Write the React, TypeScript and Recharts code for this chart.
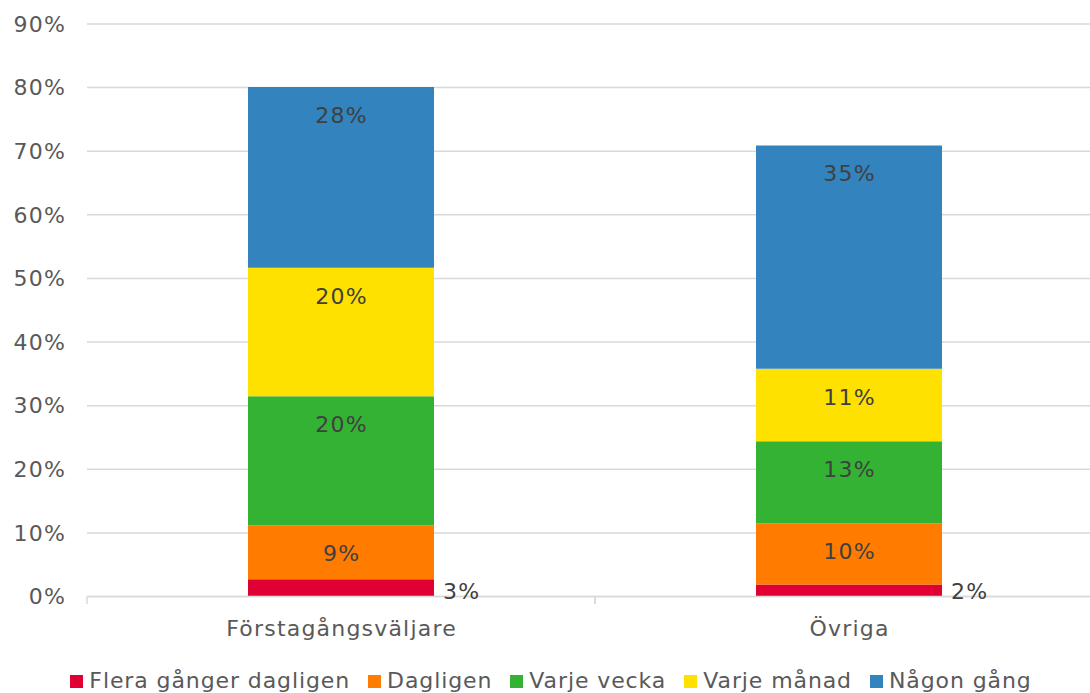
import React from 'react';
import { BarChart, Bar, XAxis, YAxis, CartesianGrid, Legend, LabelList } from 'recharts';

const categories = ['Förstagångsväljare', 'Övriga'];
const fleraGangerDagligen = [2.7, 1.9];
const dagligen = [8.5, 9.6];
const varjeVecka = [20.3, 12.9];
const varjeManad = [20.2, 11.4];
const nagonGang = [28.4, 35.1];
const yTicks = [0, 10, 20, 30, 40, 50, 60, 70, 80, 90];

const seriesNames = ['Flera gånger dagligen', 'Dagligen', 'Varje vecka', 'Varje månad', 'Någon gång'];
const seriesKeys = ['flera', 'dagligen', 'vecka', 'manad', 'nagon'];
const seriesColors = ['#E10034', '#FF7C00', '#34B233', '#FFE100', '#3283BE'];

const data = categories.map((c, i) => ({
  name: c,
  flera: fleraGangerDagligen[i],
  dagligen: dagligen[i],
  vecka: varjeVecka[i],
  manad: varjeManad[i],
  nagon: nagonGang[i],
}));

const FONT = '"DejaVu Sans", sans-serif';
const FS = 22;
const LS = 1.2;
const TICK_SIZE = 6;
const TICK_MARGIN = 18;

const InsideLabel = (props: any) => {
  const { x, y, width, value } = props;
  return (
    <text x={x + width / 2 + LS / 2} y={y + 36} textAnchor="middle" fill="#404040" fontSize={FS} fontFamily={FONT}>
      {Math.round(value)}%
    </text>
  );
};

const OutsideLabel = (props: any) => {
  const { x, y, width, height, value } = props;
  return (
    <text x={x + width + 9} y={y + height + 2} textAnchor="start" fill="#404040" fontSize={FS} fontFamily={FONT}>
      {Math.round(value)}%
    </text>
  );
};

const XTick = (props: any) => {
  const { x, y, payload } = props;
  const half = Number(payload && payload.offset) || 0;
  const axisY = y - TICK_SIZE - TICK_MARGIN;
  return (
    <g>
      {half > 0 && (
        <>
          <line x1={x - half} x2={x - half} y1={axisY} y2={axisY + 7.5} stroke="#d9d9d9" strokeWidth={1.5} />
          <line x1={x + half} x2={x + half} y1={axisY} y2={axisY + 7.5} stroke="#d9d9d9" strokeWidth={1.5} />
        </>
      )}
      <text x={x + LS / 2} y={y} dy="0.71em" textAnchor="middle" fill="#595959" fontSize={FS} fontFamily={FONT}>
        {payload.value}
      </text>
    </g>
  );
};

const renderLegend = () => (
  <div style={{ display: 'flex', justifyContent: 'center', alignItems: 'center', fontFamily: FONT }}>
    {seriesNames.map((n, i) => (
      <div key={n} style={{ display: 'flex', alignItems: 'center', marginRight: i < seriesNames.length - 1 ? 18 : 0 }}>
        <span style={{ display: 'inline-block', width: 13, height: 13, background: seriesColors[i], marginRight: 6 }} />
        <span style={{ fontSize: FS, color: '#595959', lineHeight: '26px', letterSpacing: 0.9 }}>{n}</span>
      </div>
    ))}
  </div>
);

export default function App() {
  return (
    <div style={{ position: 'fixed', left: 0, top: 0, width: 1090, height: 693, overflow: 'hidden', background: '#fff', fontFamily: FONT, letterSpacing: LS }}>
      <BarChart width={1104} height={693} data={data} margin={{ top: 24, right: 1, left: 0, bottom: 66.5 }} barSize={186}>
        <CartesianGrid vertical={false} stroke="#d9d9d9" strokeWidth={1.5} />
        <XAxis
          dataKey="name"
          height={30}
          axisLine={{ stroke: '#d9d9d9', strokeWidth: 1.5 }}
          tickLine={false}
          tickSize={TICK_SIZE}
          tickMargin={TICK_MARGIN}
          tick={<XTick />}
        />
        <YAxis
          width={87}
          domain={[0, 90]}
          ticks={yTicks}
          interval={0}
          axisLine={false}
          tickLine={false}
          tickSize={0}
          tickMargin={21}
          tickFormatter={(v: number) => `${v}%`}
          tick={{ fill: '#595959', fontSize: FS, fontFamily: FONT }}
        />
        <Legend
          layout="horizontal"
          verticalAlign="middle"
          align="center"
          wrapperStyle={{ top: 668, left: 0, width: 1102 }}
          content={renderLegend}
        />
        {seriesKeys.map((k, i) => (
          <Bar key={k} dataKey={k} name={seriesNames[i]} stackId="a" fill={seriesColors[i]} isAnimationActive={false}>
            <LabelList dataKey={k} content={i === 0 ? OutsideLabel : InsideLabel} />
          </Bar>
        ))}
      </BarChart>
    </div>
  );
}
